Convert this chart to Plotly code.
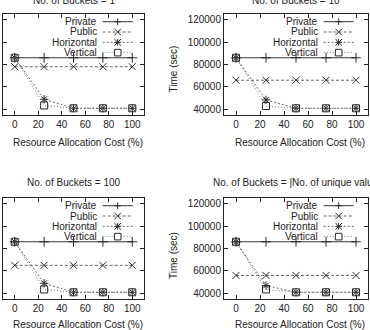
import plotly.graph_objects as go

W, H = 370, 330

# ---- data ----
cost = [0, 25, 50, 75, 100]
series_names = ["Private", "Public", "Horizontal", "Vertical"]
titles = ["No. of Buckets = 1", "No. of Buckets = 10",
          "No. of Buckets = 100", "No. of Buckets = |No. of unique values|"]

private_b1 = [86000, 86000, 86000, 86000, 86000]
public_b1 = [78000, 78000, 78000, 78000, 78000]
horizontal_b1 = [86000, 49000, 41000, 41000, 41000]
vertical_b1 = [86000, 43500, 41000, 41000, 41000]

private_b10 = [86000, 86000, 86000, 86000, 86000]
public_b10 = [66000, 66000, 66000, 66000, 66000]
horizontal_b10 = [86000, 48500, 41000, 41000, 41000]
vertical_b10 = [86000, 43000, 41000, 41000, 41000]

private_b100 = [86000, 86000, 86000, 86000, 86000]
public_b100 = [65000, 65000, 65000, 65000, 65000]
horizontal_b100 = [86000, 49000, 41000, 41000, 41000]
vertical_b100 = [86000, 43500, 41000, 41000, 41000]

private_bu = [86000, 86000, 86000, 86000, 86000]
public_bu = [56000, 56000, 56000, 56000, 56000]
horizontal_bu = [86000, 47000, 41000, 41000, 41000]
vertical_bu = [86000, 43500, 41000, 41000, 41000]

x_ticks = [0, 20, 40, 60, 80, 100]
y_ticks = [40000, 60000, 80000, 100000, 120000]
y_tick_labels = ["40000", "60000", "80000", "100000", "120000"]

panels = [
    [private_b1, public_b1, horizontal_b1, vertical_b1],
    [private_b10, public_b10, horizontal_b10, vertical_b10],
    [private_b100, public_b100, horizontal_b100, vertical_b100],
    [private_bu, public_bu, horizontal_bu, vertical_bu],
]

# ---- styling ----
FONT = "Liberation Sans, Arial, sans-serif"
FS = 10
LFS = 10
styles = {
    "Private": dict(symbol="cross-thin-open", dash="solid", lc="#333333"),
    "Public": dict(symbol="x-thin-open", dash="3px,2px", lc="#666666"),
    "Horizontal": dict(symbol="asterisk-open", dash="2px,2px", lc="#666666"),
    "Vertical": dict(symbol="square-open", dash="1px,2px", lc="#777777"),
}

# panel boxes in pixels: (left, top, right, bottom)
boxes = [(3, 14, 144, 115), (224, 14, 368, 115),
         (3, 198, 144, 299), (224, 198, 368, 299)]


def px(x):
    return x / W


def py(y):
    return 1 - y / H


fig = go.Figure()
layout = dict(
    width=W, height=H, autosize=False,
    margin=dict(l=0, r=0, t=0, b=0),
    paper_bgcolor="white", plot_bgcolor="white",
    showlegend=False,
    font=dict(family=FONT, size=FS, color="#222"),
)

annotations = []
shapes = []

for i, (vals, box) in enumerate(zip(panels, boxes)):
    xa = "x" if i == 0 else f"x{i+1}"
    ya = "y" if i == 0 else f"y{i+1}"
    xkey = "xaxis" if i == 0 else f"xaxis{i+1}"
    ykey = "yaxis" if i == 0 else f"yaxis{i+1}"
    l, t, r, b = box
    for name, v in zip(series_names, vals):
        s = styles[name]
        fig.add_trace(go.Scatter(
            x=cost, y=v, mode="lines+markers", name=name,
            xaxis=xa, yaxis=ya,
            line=dict(color=s["lc"], width=1, dash=s["dash"]),
            marker=dict(symbol=s["symbol"], size=7, color="#2a2a2a",
                        line=dict(color="#2a2a2a", width=1)),
        ))
    show_y = (i % 2 == 1)
    layout[xkey] = dict(
        domain=[px(l), px(r)], anchor=ya, range=[-10, 110],
        tickvals=x_ticks, ticks="inside", ticklen=4, tickcolor="#222",
        mirror="allticks", showline=True, linecolor="#222", linewidth=1,
        showgrid=False, zeroline=False,
        tickfont=dict(family=FONT, size=FS, color="#222"),
    )
    layout[ykey] = dict(
        domain=[py(b), py(t)], anchor=xa, range=[35000, 125000],
        tickvals=y_ticks, ticktext=y_tick_labels,
        ticks="inside", ticklen=4, tickcolor="#222",
        mirror="allticks", showline=True, linecolor="#222", linewidth=1,
        showgrid=False, zeroline=False, showticklabels=show_y,
        tickfont=dict(family=FONT, size=FS, color="#222"),
    )
    # title
    top_row = i < 2
    ty = 0 if top_row else 182
    if i == 3:
        annotations.append(dict(text=titles[i], x=px(211), y=py(ty),
                                xref="paper", yref="paper", xanchor="left",
                                yanchor="middle", showarrow=False,
                                font=dict(size=FS)))
    else:
        annotations.append(dict(text=titles[i], x=px((l + r) / 2), y=py(ty),
                                xref="paper", yref="paper", xanchor="center",
                                yanchor="middle", showarrow=False,
                                font=dict(size=FS)))
    # x-axis title
    xt_y = 142 if top_row else 324.5
    annotations.append(dict(text="Resource Allocation Cost (%)",
                            x=px((l + r) / 2 + 4), y=py(xt_y),
                            xref="paper", yref="paper", xanchor="center",
                            yanchor="middle", showarrow=False,
                            font=dict(size=FS)))
    # y-axis title (right panels)
    if show_y:
        annotations.append(dict(text="Time (sec)", x=px(173),
                                y=py(69.5 if top_row else 256),
                                xref="paper", yref="paper", xanchor="center",
                                yanchor="middle", showarrow=False,
                                textangle=-90, font=dict(size=FS)))
    # custom gnuplot-style legend: text then sample
    for k, name in enumerate(series_names):
        s = styles[name]
        ry = t + 7.7 + 10.3 * k
        annotations.append(dict(text=name, x=px(l + 94.7), y=py(ry),
                                xref="paper", yref="paper", xanchor="right",
                                yanchor="middle", showarrow=False,
                                borderpad=0, font=dict(size=LFS)))
        x0, x1 = l + 99.7, l + 129.7
        shapes.append(dict(type="line", xref="paper", yref="paper",
                           x0=px(x0), x1=px(x1), y0=py(ry), y1=py(ry),
                           line=dict(color=s["lc"], width=1, dash=s["dash"])))
        cx, cy, h = l + 114.7, ry, 3.3
        mk = dict(color="#2a2a2a", width=1)
        segs = []
        if name in ("Private", "Horizontal"):
            segs += [(cx - h, cy, cx + h, cy), (cx, cy - h, cx, cy + h)]
        if name in ("Public", "Horizontal"):
            segs += [(cx - h, cy - h, cx + h, cy + h), (cx - h, cy + h, cx + h, cy - h)]
        for (a0, b0, a1, b1) in segs:
            shapes.append(dict(type="line", xref="paper", yref="paper",
                               x0=px(a0), y0=py(b0), x1=px(a1), y1=py(b1),
                               line=mk))
        if name == "Vertical":
            shapes.append(dict(type="rect", xref="paper", yref="paper",
                               x0=px(cx - h), x1=px(cx + h),
                               y0=py(cy - h), y1=py(cy + h),
                               line=mk, fillcolor="white"))

layout["annotations"] = annotations
layout["shapes"] = shapes
fig.update_layout(**layout)
fig.write_html("out.html")
